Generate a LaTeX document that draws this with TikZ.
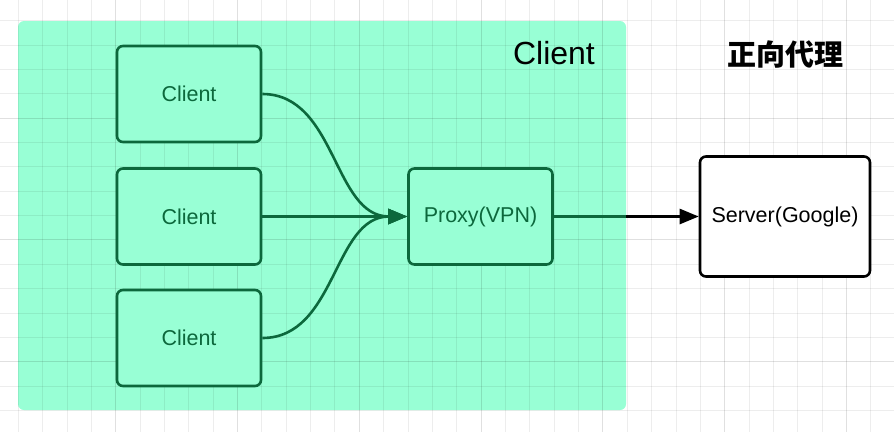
\documentclass[tikz,border=0pt]{standalone}
\usepackage{fontspec}
\setmainfont{Liberation Sans}
\newfontfamily\cjk{Noto Sans CJK SC}
\usetikzlibrary{arrows.meta}

\definecolor{mint}{RGB}{152,255,213}
\definecolor{leaf}{RGB}{12,104,60}

\tikzset{
  box/.style={draw=leaf, fill=mint, text=leaf, line width=2.6pt,
    rounded corners=6pt, minimum width=144pt, minimum height=96pt,
    font=\fontsize{21.5}{25}\selectfont},
  link/.style={leaf, line width=2.6pt, -{Triangle[length=19pt,width=15pt]}},
}

\begin{document}
\begin{tikzpicture}[x=1pt, y=-1pt]
    \useasboundingbox (0, 0) rectangle (894, 432);
    \fill[white] (0, 0) rectangle (894, 432);

    % client area
    \fill[mint, rounded corners=6pt] (18, 21) rectangle (626, 410);

    % grid
    \foreach \i in {-1,...,36}
        \draw[black, opacity=0.07, line width=1pt] (18.3+24.36*\i, 0) -- (18.3+24.36*\i, 432);
    \foreach \j in {-1,...,17}
        \draw[black, opacity=0.07, line width=1pt] (0, 20.7+24.36*\j) -- (894, 20.7+24.36*\j);
    \foreach \i in {-1,...,7}
        \draw[black, opacity=0.05, line width=1pt] (115.7+121.8*\i, 0) -- (115.7+121.8*\i, 432);
    \foreach \j in {-1,...,3}
        \draw[black, opacity=0.05, line width=1pt] (0, 118+121.8*\j) -- (894, 118+121.8*\j);

    % titles
    \node[font=\fontsize{32}{36}\selectfont] (areatitle) at (554, 53) {Client};
    \node[font=\cjk\bfseries\fontsize{29}{34}\selectfont] (title) at (785, 54) {正向代理};

    % boxes
    \node[box] (client1) at (189, 94) {Client};
    \node[box] (client2) at (189, 216.5) {Client};
    \node[box] (client3) at (189, 338) {Client};
    \node[box] (proxy) at (480.5, 216.5) {Proxy(VPN)};
    \node[box, draw=black, fill=white, text=black, minimum width=170pt,
        minimum height=120pt] (server) at (785, 216.5) {Server(Google)};
    \coordinate (areaedge) at (626, 216.5);

    % connectors
    \draw[link] (client1.east) to[out=0, in=180] (proxy.west);
    \draw[link] (client2.east) -- (proxy.west);
    \draw[link] (client3.east) to[out=0, in=180] (proxy.west);
    \draw[link, black] (proxy.east) -- (server.west);
    \draw[leaf, line width=2.6pt] (proxy.east) -- (areaedge);
\end{tikzpicture}
\end{document}
